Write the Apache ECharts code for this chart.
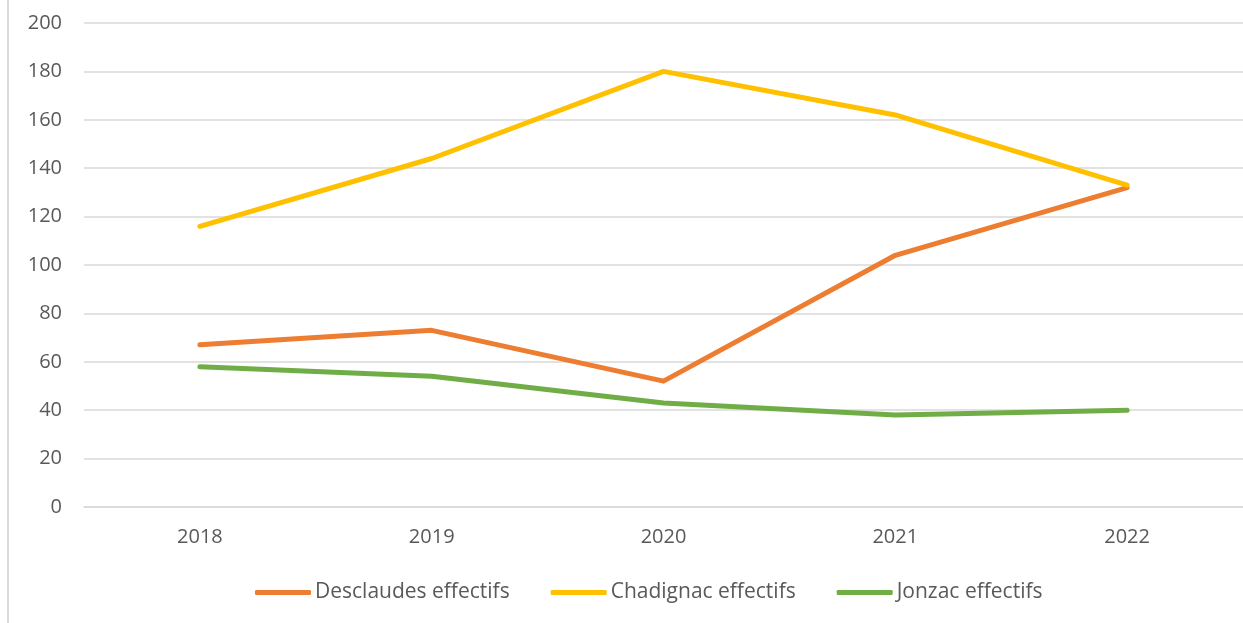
<!DOCTYPE html>
<html>
<head>
<meta charset="utf-8">
<script src="https://cdn.jsdelivr.net/npm/echarts@6/dist/echarts.min.js"></script>
<style>
  html, body { margin: 0; padding: 0; background: #fff; }
  #chart { width: 1243px; height: 623px; }
</style>
</head>
<body>
<div id="chart"></div>
<script>
// data
const years = ['2018', '2019', '2020', '2021', '2022'];
const desclaudes = [67, 73, 52, 104, 132];
const chadignac = [116, 144, 180, 162, 133];
const jonzac = [58, 54, 43, 38, 40];

const font = '"Open Sans", sans-serif';

const chart = echarts.init(document.getElementById('chart'));

const option = {
    animation: false,
    color: ['#ED7D31', '#FFC000', '#70AD47'],
    grid: { left: 84, right: 0, top: 23, bottom: 116 },
    legend: {
        bottom: 15,
        left: 250,
        itemWidth: 56,
        itemHeight: 5,
        itemGap: 41,
        icon: 'roundRect',
        textStyle: { fontFamily: font, fontSize: 21, color: '#595959', padding: [0, 0, 0, -1] },
        data: ['Desclaudes effectifs', 'Chadignac effectifs', 'Jonzac effectifs']
    },
    xAxis: {
        type: 'category',
        data: years,
        boundaryGap: true,
        axisLine: { lineStyle: { color: '#D9D9D9', width: 1.5 } },
        axisTick: { show: false },
        axisLabel: { fontFamily: font, fontSize: 20, color: '#595959', margin: 20 }
    },
    yAxis: {
        type: 'value',
        min: 0,
        max: 200,
        interval: 20,
        axisLine: { show: false },
        axisTick: { show: false },
        splitLine: { lineStyle: { color: '#D9D9D9', width: 1.5 } },
        axisLabel: { fontFamily: font, fontSize: 20, color: '#595959', margin: 22 }
    },
    series: [
        {
            name: 'Desclaudes effectifs',
            type: 'line',
            data: desclaudes,
            symbol: 'none',
            lineStyle: { width: 5, cap: 'round', join: 'round' }
        },
        {
            name: 'Chadignac effectifs',
            type: 'line',
            data: chadignac,
            symbol: 'none',
            lineStyle: { width: 5, cap: 'round', join: 'round' }
        },
        {
            name: 'Jonzac effectifs',
            type: 'line',
            data: jonzac,
            symbol: 'none',
            lineStyle: { width: 5, cap: 'round', join: 'round' }
        }
    ],
    graphic: [
        {
            type: 'line',
            shape: { x1: 8, y1: 0, x2: 8, y2: 623 },
            style: { stroke: '#D9D9D9', lineWidth: 2 }
        }
    ]
};

chart.setOption(option);
</script>
</body>
</html>
